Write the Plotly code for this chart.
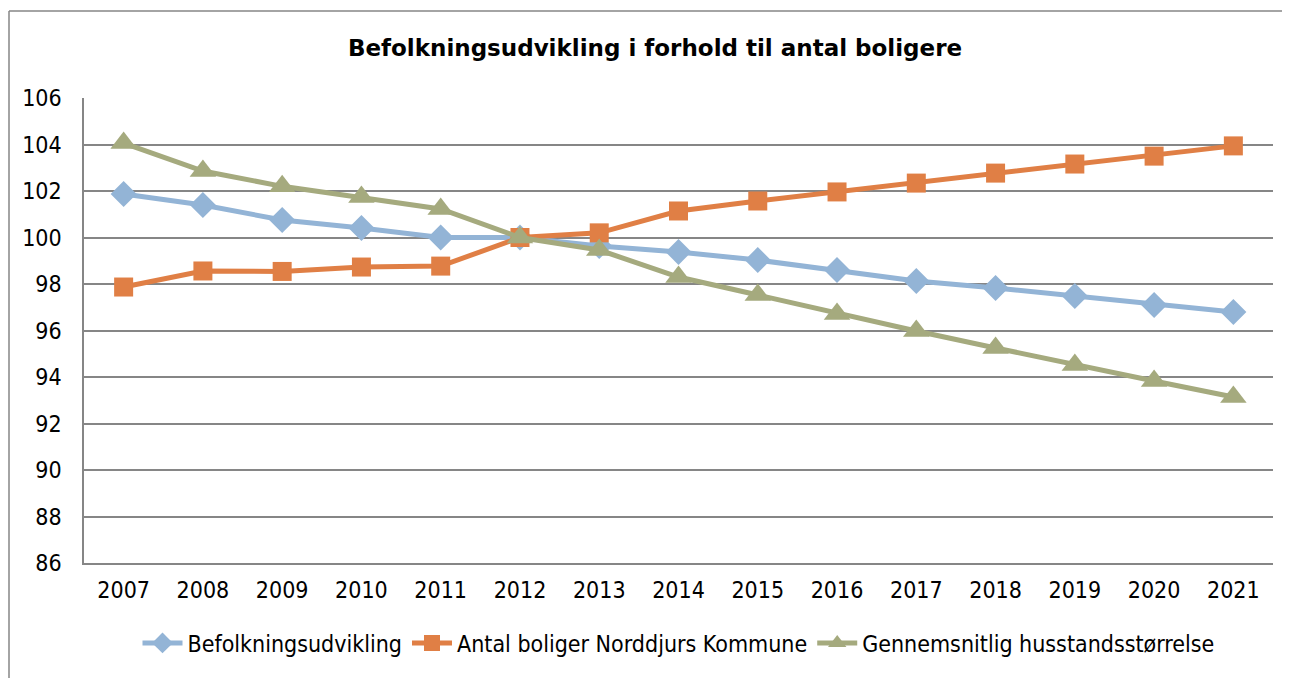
import plotly.graph_objects as go

years = ["2007", "2008", "2009", "2010", "2011", "2012", "2013", "2014",
         "2015", "2016", "2017", "2018", "2019", "2020", "2021"]
befolkning = [101.87, 101.4, 100.75, 100.41, 100.0, 100.0, 99.63, 99.38,
              99.03, 98.6, 98.13, 97.83, 97.48, 97.1, 96.8]
boliger = [97.87, 98.56, 98.54, 98.73, 98.77, 100.0, 100.2, 101.14,
           101.57, 101.96, 102.34, 102.77, 103.16, 103.5, 103.94]
husstand = [104.06, 102.86, 102.2, 101.74, 101.23, 100.0, 99.46, 98.3,
            97.53, 96.71, 95.98, 95.25, 94.52, 93.83, 93.14]

FONT = "DejaVu Sans Condensed"

fig = go.Figure()
fig.add_trace(go.Scatter(x=years, y=befolkning, name="Befolkningsudvikling",
                         mode="lines+markers",
                         line=dict(color="#93B4D6", width=5),
                         marker=dict(symbol="diamond", size=20, color="#93B4D6")))
fig.add_trace(go.Scatter(x=years, y=boliger, name="Antal boliger Norddjurs Kommune",
                         mode="lines+markers",
                         line=dict(color="#E07F45", width=5),
                         marker=dict(symbol="square", size=19, color="#E07F45")))
fig.add_trace(go.Scatter(x=years, y=husstand, name="Gennemsnitlig husstandsstørrelse",
                         mode="lines+markers",
                         line=dict(color="#A5AA7E", width=5),
                         marker=dict(symbol="triangle-up", size=23, color="#A5AA7E")))

# page is offset by the 8px body margin
W, H = 1282, 670
l, r, t, b = 76, 17, 90, 115
pw, ph = W - l - r, H - t - b

fig.update_layout(
    width=W, height=H,
    margin=dict(l=l, r=r, t=t, b=b),
    paper_bgcolor="white", plot_bgcolor="white",
    font=dict(family=FONT, size=23, color="black"),
    title=dict(text="<b>Befolkningsudvikling i forhold til antal boligere</b>",
               x=(655 - 8) / W, xanchor="center", y=1 - 40 / H, yanchor="middle",
               font=dict(family="DejaVu Sans", size=23, color="black")),
    xaxis=dict(type="category", range=[-0.5, 14.5], showgrid=False,
               showline=True, linecolor="#868686", linewidth=1.5,
               ticks="", tickfont=dict(size=23), ticklabelstandoff=6),
    yaxis=dict(range=[86, 106], dtick=2, showgrid=True, gridcolor="#868686",
               gridwidth=1.5, showline=True, linecolor="#868686", linewidth=1.5,
               ticks="", zeroline=False, tickfont=dict(size=23),
               ticklabelstandoff=16),
    legend=dict(orientation="h", x=0.5, xanchor="center",
                y=-(643 - 563) / ph, yanchor="middle",
                font=dict(size=23), itemwidth=40, tracegroupgap=0),
    showlegend=True,
)

# outer chart frame
fig.add_shape(type="line", xref="paper", yref="paper",
              x0=(1 - l) / pw, x1=(1 - l) / pw, y0=1 + (t - 3) / ph, y1=-(b) / ph,
              line=dict(color="#868686", width=1.5))
fig.add_shape(type="line", xref="paper", yref="paper",
              x0=(1 - l) / pw, x1=(W - l) / pw, y0=1 + (t - 3) / ph, y1=1 + (t - 3) / ph,
              line=dict(color="#868686", width=1.5))

fig.write_html("out.html")
